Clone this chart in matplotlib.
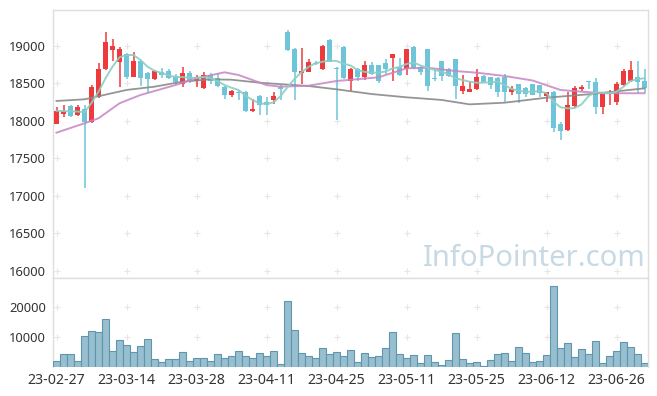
import matplotlib
matplotlib.use("Agg")
import matplotlib.pyplot as plt
import numpy as np

plt.rcParams['font.family'] = ['Noto Sans', 'DejaVu Sans']

# ---- data ----
opens = [17963, 18096, 18199, 18079, 18155, 17990, 18323, 18689, 18951, 18782,
         18889, 18590, 18800, 18635, 18559, 18649, 18666, 18604, 18489, 18635,
         18533, 18443, 18613, 18569, 18457, 18346, 18390, 18390, 18132, 18337,
         18248, 18279, 18457, 19191, 18960, 18644, 18657, 18777, 18689, 19080,
         18700, 18991, 18537, 18693, 18590, 18746, 18746, 18769, 18844, 18724,
         18689, 18982, 18724, 18960, 18577, 18800, 18693, 18826, 18403, 18390,
         18420, 18600, 18585, 18577, 18590, 18390, 18489, 18435, 18489, 18479,
         18333, 18390, 17959, 17879, 18199, 18426, 18524, 18515, 18190, 18355,
         18248, 18479, 18533, 18590, 18533]
highs = [18190, 18208, 18210, 18208, 18208, 18479, 18769, 19183, 19089, 18990,
         18903, 18924, 18810, 18650, 18680, 18710, 18690, 18620, 18724, 18660,
         18610, 18650, 18640, 18640, 18466, 18410, 18409, 18400, 18292, 18350,
         18323, 18390, 18480, 19210, 18970, 18977, 18830, 18800, 19010, 19090,
         18720, 19000, 18700, 18700, 18800, 18786, 18750, 18827, 18895, 18844,
         18960, 19000, 18735, 18965, 18693, 18805, 18700, 18830, 18610, 18533,
         18690, 18610, 18590, 18585, 18622, 18466, 18495, 18457, 18495, 18485,
         18385, 18395, 17986, 18390, 18466, 18480, 18533, 18577, 18390, 18412,
         18524, 18693, 18800, 18800, 18693]
lows = [17955, 18048, 18050, 18060, 17100, 17970, 18310, 18680, 18804, 18449,
        18555, 18580, 18466, 18369, 18550, 18577, 18560, 18479, 18457, 18510,
        18457, 18430, 18490, 18457, 18292, 18320, 18279, 18120, 18125, 18079,
        18079, 18220, 18280, 18930, 18279, 18489, 18650, 18740, 18680, 18780,
        18012, 18560, 18399, 18533, 18546, 18610, 18510, 18630, 18533, 18605,
        18613, 18690, 18613, 18399, 18533, 18533, 18590, 18290, 18359, 18385,
        18410, 18520, 18420, 18315, 18256, 18346, 18239, 18323, 18340, 18323,
        18252, 17848, 17745, 17870, 18172, 18399, 18422, 18088, 18088, 18212,
        18212, 18470, 18525, 18369, 18369]
closes = [18132, 18132, 18066, 18182, 17985, 18449, 18693, 19049, 19000, 18960,
          18590, 18800, 18577, 18559, 18666, 18613, 18577, 18515, 18635, 18533,
          18590, 18613, 18533, 18470, 18346, 18399, 18377, 18132, 18159, 18212,
          18212, 18337, 18422, 18947, 18657, 18666, 18790, 18756, 19000, 18790,
          18690, 18577, 18693, 18590, 18746, 18622, 18533, 18693, 18889, 18613,
          18956, 18702, 18657, 18470, 18555, 18604, 18604, 18468, 18466, 18426,
          18590, 18524, 18480, 18390, 18390, 18422, 18359, 18359, 18346, 18377,
          18382, 17909, 17865, 18212, 18443, 18457, 18515, 18190, 18355, 18390,
          18489, 18666, 18680, 18524, 18435]
volumes = [2100, 4400, 4400, 2100, 10300, 12000, 11650, 15900, 5400, 8800,
           7400, 5050, 7000, 9300, 2500, 1750, 2750, 2750, 5050, 2100,
           3100, 3100, 2100, 4400, 3100, 3700, 5400, 3700, 3100, 4700,
           3700, 5400, 1100, 21900, 12300, 4700, 3700, 3100, 6400, 4400,
           5050, 3700, 5700, 1750, 4700, 3400, 3700, 6400, 11650, 4400,
           3100, 4050, 1450, 4050, 1750, 800, 2400, 11300, 2750, 1450,
           1750, 450, 2400, 4400, 4700, 2100, 6700, 4700, 1750, 2100,
           4050, 26900, 6400, 8000, 3400, 6000, 4400, 8700, 1450, 3700,
           5400, 8350, 6700, 4400, 1450]

ma_short = [18135, 18130, 18128, 18125, 18115, 18240, 18390, 18569, 18724, 18849,
            18880, 18880, 18813, 18724, 18670, 18640, 18610, 18585, 18585, 18575,
            18575, 18585, 18569, 18533, 18479, 18443, 18413, 18337, 18279, 18235,
            18226, 18248, 18330, 18450, 18560, 18650, 18720, 18770, 18790, 18805,
            18800, 18765, 18740, 18680, 18655, 18645, 18645, 18660, 18700, 18720,
            18760, 18780, 18740, 18710, 18680, 18657, 18622, 18569, 18546, 18524,
            18510, 18510, 18515, 18524, 18479, 18426, 18404, 18390, 18390, 18399,
            18369, 18257, 18182, 18168, 18170, 18220, 18330, 18385, 18375, 18369,
            18390, 18457, 18533, 18559, 18569]
ma_mid_idx = [0, 4, 6, 9, 12, 17, 20, 24, 26, 30, 32, 36, 40, 46, 50, 53, 57,
              60, 64, 68, 72, 75, 78, 84]
ma_mid = [17843, 17968, 18035, 18235, 18346, 18479, 18569, 18649, 18613, 18479,
          18457, 18470, 18533, 18582, 18702, 18710, 18666, 18644, 18600, 18540,
          18413, 18390, 18370, 18369]
ma_long_idx = [0, 4, 10, 14, 18, 22, 25, 29, 36, 40, 45, 50, 55, 59, 64, 70, 76, 84]
ma_long = [18266, 18288, 18413, 18457, 18524, 18555, 18550, 18510, 18466, 18422,
           18359, 18315, 18280, 18221, 18243, 18310, 18355, 18435]

tick_idx = [0, 10, 20, 30, 40, 50, 60, 70, 80]
tick_labels = ['23-02-27', '23-03-14', '23-03-28', '23-04-11', '23-04-25',
               '23-05-11', '23-05-25', '23-06-12', '23-06-26']
price_ticks = [16000, 16500, 17000, 17500, 18000, 18500, 19000]
vol_ticks = [10000, 20000]

# ---- figure ----
W, H = 657, 396
fig = plt.figure(figsize=(W / 100, H / 100), dpi=100)
left, right = 53 / W, 648 / W
axp = fig.add_axes([left, 1 - 278 / H, right - left, 268 / H])
axv = fig.add_axes([left, 1 - 367 / H, right - left, 89 / H])

UP = '#ec3a3d'
DOWN = '#6ec5da'
SPINE = '#dedede'
TXT = '#333333'

x = np.arange(len(opens))
o = np.array(opens); c = np.array(closes); h = np.array(highs); l = np.array(lows)
up = c >= o
cols = np.where(up, UP, DOWN)

axp.vlines(x, l, h, colors=cols, linewidth=1.1, zorder=3)
body_bottom = np.minimum(o, c)
body_h = np.maximum(np.abs(c - o), 12)
axp.bar(x, body_h, bottom=body_bottom, width=0.72, color=cols, linewidth=0, zorder=4)

axp.plot(ma_long_idx, ma_long, color='#8a8a8a', lw=1.3, alpha=0.9, zorder=5)
axp.plot(ma_mid_idx, ma_mid, color='#c785c4', lw=1.4, alpha=0.85, zorder=5)
axp.plot(x, ma_short, color='#8ccfc2', lw=1.4, alpha=0.9, zorder=6)

axp.set_xlim(-0.5, len(opens) - 0.5)
axp.set_ylim(15902, 19481)
axp.set_yticks(price_ticks)
axp.set_yticklabels([str(t) for t in price_ticks])
axp.set_xticks([])

# grid crosses
CROSS = '#e6e6e6'
gx, gy = np.meshgrid(tick_idx, price_ticks)
axp.scatter(gx.ravel(), gy.ravel(), marker='+', s=16, linewidths=0.8,
            color=CROSS, zorder=1)

# volume
axv.bar(x, volumes, width=1.0, color='#98bfcf', edgecolor='#5f95ad',
        linewidth=0.8, zorder=3)
axv.set_xlim(-0.5, len(opens) - 0.5)
axv.set_ylim(0, 29450)
axv.set_yticks(vol_ticks)
axv.set_yticklabels([str(t) for t in vol_ticks])
axv.set_xticks(tick_idx)
axv.set_xticklabels(tick_labels)
gx2, gy2 = np.meshgrid(tick_idx, vol_ticks)
axv.scatter(gx2.ravel(), gy2.ravel(), marker='+', s=16, linewidths=0.8,
            color=CROSS, zorder=1)

for ax in (axp, axv):
    for s in ax.spines.values():
        s.set_color(SPINE)
        s.set_linewidth(1.0)
    ax.tick_params(axis='both', length=0, colors=TXT)
    ax.tick_params(axis='y', pad=5, labelsize=9.3)
    ax.tick_params(axis='x', pad=4, labelsize=10.2)
axv.spines['bottom'].set_visible(False)

fig.text(422.7 / W, 1 - 266 / H, 'InfoPointer.com', fontsize=21, color='#c6d9e4',
         ha='left', va='baseline', zorder=10)

fig.savefig('out.png', dpi=100)
